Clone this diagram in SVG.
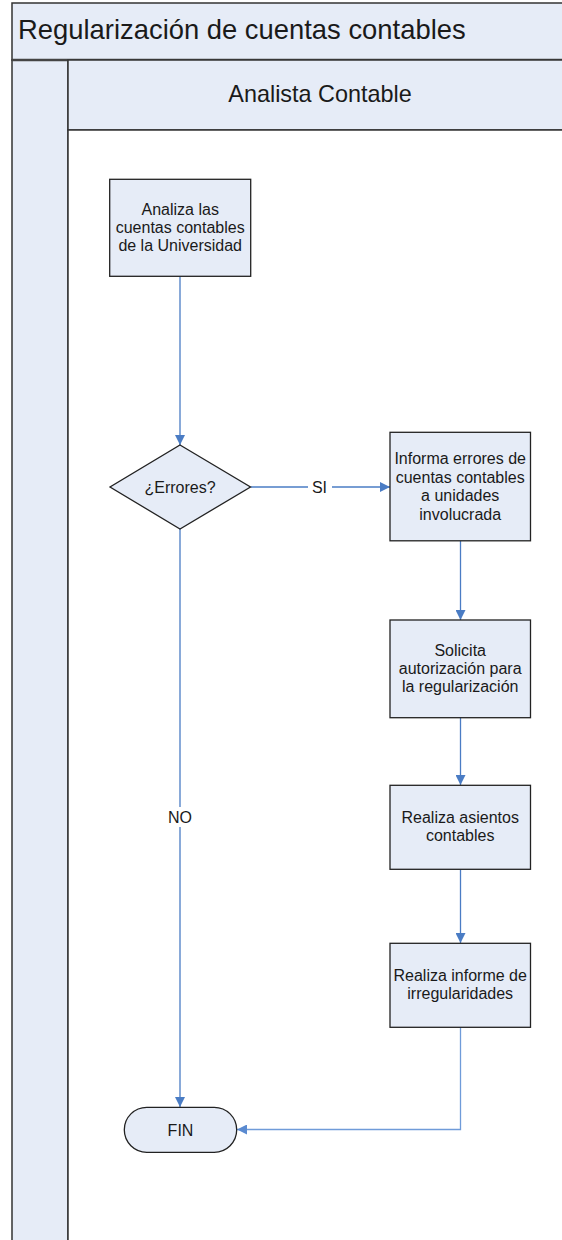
<svg xmlns="http://www.w3.org/2000/svg" width="562" height="1240" viewBox="0 0 562 1240">
<style>
.pool{fill:#E6ECF7;stroke:#333;stroke-width:1.5}
.lanebody{fill:#FFFFFF;stroke:#333;stroke-width:1.5}
.box{fill:#E6ECF7;stroke:#222;stroke-width:1.3}
.t{font-family:"Liberation Sans",Arial,sans-serif;fill:#1A1A1A}
.nt{font-size:16px;text-anchor:middle}
.conn{fill:none;stroke:#4A7CC4;stroke-width:1.3}
.conn2{fill:none;stroke:#6F9BD9;stroke-width:1.3}
.lbl{font-size:16px;text-anchor:middle}
</style>
<defs>
<marker id="arr" viewBox="0 0 10 10" refX="10" refY="5" markerWidth="10" markerHeight="10" markerUnits="userSpaceOnUse" orient="auto">
<path d="M0,0 L10,5 L0,10 z" fill="#4A7CC4"/>
</marker>
<marker id="arr2" viewBox="0 0 10 10" refX="10" refY="5" markerWidth="10" markerHeight="10" markerUnits="userSpaceOnUse" orient="auto">
<path d="M0,0 L10,5 L0,10 z" fill="#5A8AD0"/>
</marker>
</defs>
<g id="pool">
<rect class="pool" x="12" y="3" width="560" height="57"/>
<text class="t" x="18" y="38.5" font-size="27.4">Regularización de cuentas contables</text>
<rect class="pool" x="12" y="60" width="56" height="1190"/>
<line x1="12" y1="60" x2="572" y2="60" stroke="#444" stroke-width="2.5"/>
</g>
<g id="lane">
<rect class="pool" x="68" y="60" width="504" height="70"/>
<rect class="lanebody" x="68" y="130" width="504" height="1120"/>
<text class="t" x="320" y="101.5" font-size="23.4" text-anchor="middle">Analista Contable</text>
</g>
<g id="connectors">
<path class="conn" d="M180,276.5 L180,445" marker-end="url(#arr)"/>
<path class="conn" d="M250.5,487 L390,487" marker-end="url(#arr)"/>
<rect x="308" y="478" width="24" height="18" fill="#FFFFFF"/>
<text class="t lbl" x="319.5" y="493">SI</text>
<path class="conn" d="M180,529 L180,1107" marker-end="url(#arr)"/>
<rect x="164" y="807" width="32" height="20" fill="#FFFFFF"/>
<text class="t lbl" x="180" y="823">NO</text>
<path class="conn" d="M460.5,541 L460.5,620" marker-end="url(#arr)"/>
<path class="conn" d="M460.5,718 L460.5,785" marker-end="url(#arr)"/>
<path class="conn" d="M460.5,869.5 L460.5,943" marker-end="url(#arr)"/>
<path class="conn2" d="M460.5,1027.5 L460.5,1129.5 L237,1129.5" marker-end="url(#arr2)"/>
</g>
<g id="n1">
<rect class="box" x="109.7" y="179.3" width="141" height="97"/>
<text class="t nt" x="180.2" y="214.6">Analiza las</text>
<text class="t nt" x="180.2" y="233">cuentas contables</text>
<text class="t nt" x="180.2" y="251.4">de la Universidad</text>
</g>
<g id="d1">
<polygon class="box" points="180,445 250.5,487 180,529 110,487"/>
<text class="t nt" x="180" y="493.3">¿Errores?</text>
</g>
<g id="n2">
<rect class="box" x="390" y="432.3" width="140.5" height="108.5"/>
<text class="t nt" x="460.2" y="464">Informa errores de</text>
<text class="t nt" x="460.2" y="482.6">cuentas contables</text>
<text class="t nt" x="460.2" y="501.2">a unidades</text>
<text class="t nt" x="460.2" y="519.8">involucrada</text>
</g>
<g id="n3">
<rect class="box" x="390" y="620" width="140.5" height="97.7"/>
<text class="t nt" x="460.2" y="655.6">Solicita</text>
<text class="t nt" x="460.2" y="674">autorización para</text>
<text class="t nt" x="460.2" y="692.4">la regularización</text>
</g>
<g id="n4">
<rect class="box" x="390" y="785.3" width="140.5" height="84"/>
<text class="t nt" x="460.2" y="823.4">Realiza asientos</text>
<text class="t nt" x="460.2" y="841.3">contables</text>
</g>
<g id="n5">
<rect class="box" x="390" y="943.3" width="140.5" height="84"/>
<text class="t nt" x="460.2" y="980.6">Realiza informe de</text>
<text class="t nt" x="460.2" y="999.2">irregularidades</text>
</g>
<g id="fin">
<rect class="box" x="124.3" y="1107.3" width="112.4" height="45" rx="22.5" ry="22.5"/>
<text class="t nt" x="180.5" y="1135.5">FIN</text>
</g>
</svg>
